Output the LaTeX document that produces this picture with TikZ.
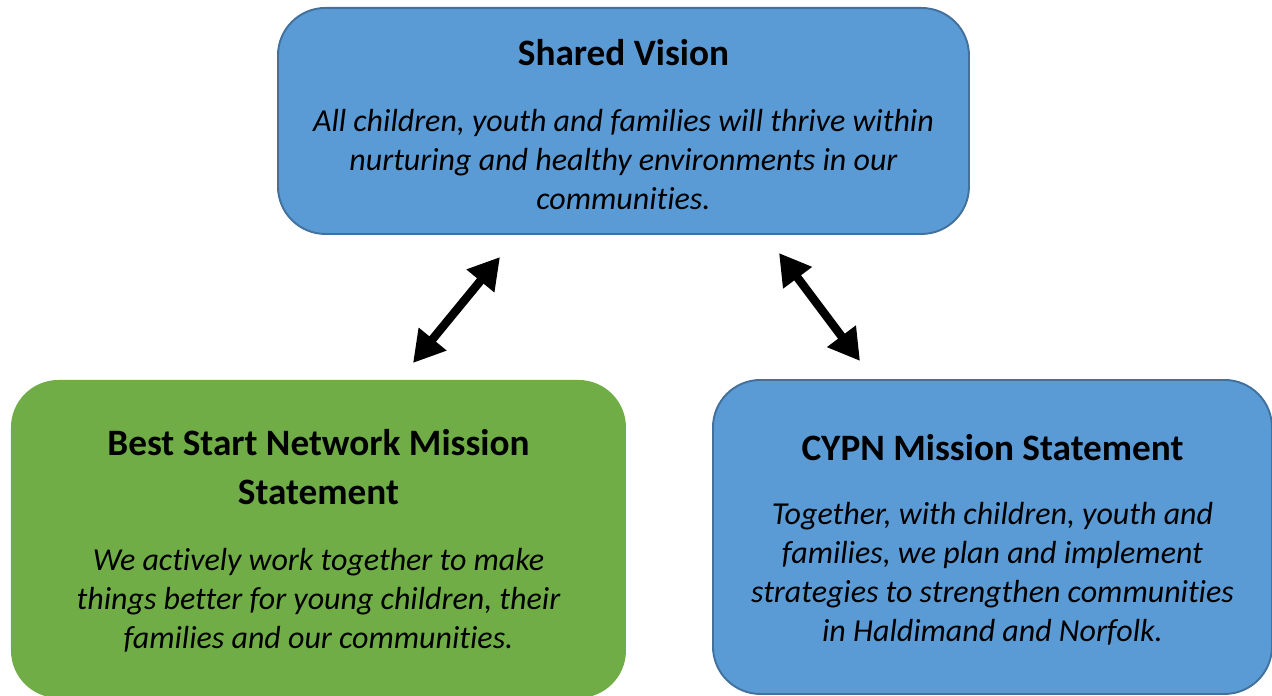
\documentclass[tikz,border=0pt]{standalone}
\usepackage{fontspec}
\setmainfont[Ligatures=NoCommon]{Carlito}
\usetikzlibrary{arrows.meta}

\definecolor{boxblue}{HTML}{5B9BD5}
\definecolor{edgeblue}{HTML}{41719C}
\definecolor{boxgreen}{HTML}{70AD47}

\begin{document}
\begin{tikzpicture}[
  panel/.style={
    rounded corners=0.95cm, line width=1.1pt,
    inner sep=0pt, anchor=north west
  },
  title/.style={
    align=center, font=\fontsize{21.2}{27.9}\selectfont\bfseries
  },
  body/.style={
    align=center, font=\fontsize{18.2}{22.2}\selectfont\itshape
  },
  link/.style={
    line width=0.17cm,
    {Triangle[width=0.68cm,length=0.62cm]}-{Triangle[width=0.68cm,length=0.62cm]}
  }
]
\useasboundingbox (0,0) rectangle (25.44,-13.92);

% ================= SHARED VISION =================
\node[panel, fill=boxblue, draw=edgeblue,
      minimum width=13.82cm, minimum height=4.52cm] (vision) at (5.54,-0.14) {};
\node[title] (visiontitle) at ([yshift=-0.92cm]vision.north) {Shared Vision};
\node[body] (visiontext) at ([yshift=-3.06cm]vision.north)
  {All children, youth and families will thrive within\\
   nurturing and healthy environments in our\\
   communities.};

% ================= BEST START =================
\node[panel, fill=boxgreen,
      minimum width=12.3cm, minimum height=6.36cm] (beststart) at (0.2,-7.58) {};
\node[title] (besttitle) at ([yshift=-1.77cm]beststart.north)
  {Best Start Network Mission\\ Statement};
\node[body] (besttext) at ([yshift=-4.42cm]beststart.north)
  {We actively work together to make\\
   things better for young children, their\\
   families and our communities.};

% ================= CYPN =================
\node[panel, fill=boxblue, draw=edgeblue,
      minimum width=11.18cm, minimum height=6.28cm] (cypn) at (14.24,-7.58) {};
\node[title] (cypntitle) at ([yshift=-1.38cm]cypn.north) {CYPN Mission Statement};
\node[body] (cypntext) at ([yshift=-3.89cm]cypn.north)
  {Together, with children, youth and\\
   families, we plan and implement\\
   strategies to strengthen communities\\
   in Haldimand and Norfolk.};

% ================= ARROWS =================
\coordinate (l1) at (10.0,-5.14);
\coordinate (l2) at (8.26,-7.26);
\coordinate (r1) at (15.58,-5.06);
\coordinate (r2) at (17.2,-7.22);

\draw[link] (l1) -- (l2);
\draw[link] (r1) -- (r2);

\end{tikzpicture}
\end{document}
